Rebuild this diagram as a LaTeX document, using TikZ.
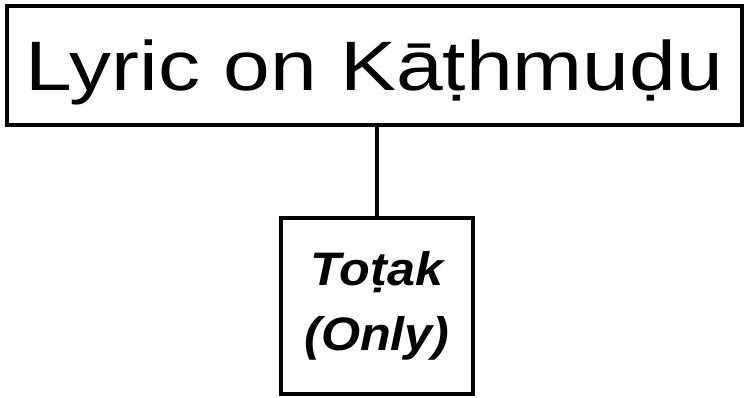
\documentclass[tikz,border=0pt]{standalone}
\usepackage{fontspec}
\setmainfont{Liberation Sans}
\usepackage{graphicx}
\begin{document}
\begin{tikzpicture}[x=1pt,y=-1pt,
  frame/.style={draw=black,line width=3.4pt,rectangle,inner sep=0pt},
  link/.style={draw=black,line width=3.4pt}]
  \useasboundingbox (0,0) rectangle (745,397);
  % title box
  \node[frame,minimum width=735pt,minimum height=119pt,
        text height=50pt,text depth=0pt,
        font=\fontsize{70pt}{70pt}\selectfont] (title) at (374.5,65.5)
        {\scalebox{1.2}[1]{Lyric on Kāṭhmuḍu}};
  % lower box
  \node[frame,minimum width=192pt,minimum height=176pt,align=center,
        text height=99pt,text depth=11pt,
        font=\fontsize{47pt}{65pt}\selectfont\bfseries\itshape] (metre) at (377,306)
        {\scalebox{1.07}[1]{Toṭak}\\\scalebox{1.07}[1]{(Only)}};
  \draw[link] (title.south -| metre.north) -- (metre.north);
\end{tikzpicture}
\end{document}
